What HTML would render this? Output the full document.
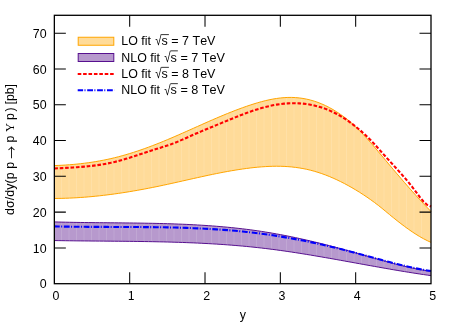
<!DOCTYPE html>
<html><head><meta charset="utf-8"><title>plot</title>
<style>
html,body{margin:0;padding:0;background:#fff;}
body{width:454px;height:324px;overflow:hidden;}
svg{display:block;will-change:transform;}
text{white-space:pre;font-family:"Liberation Sans","DejaVu Sans",sans-serif;font-size:12.4px;fill:#000;font-kerning:none;}
</style></head><body>
<svg width="454" height="324" viewBox="0 0 454 324">
<rect x="0" y="0" width="454" height="324" fill="#fff"/>

<path d="M54.35,165.58 L58.12,165.43 L61.88,165.25 L65.65,165.02 L69.42,164.75 L73.18,164.44 L76.95,164.08 L80.72,163.68 L84.48,163.23 L88.25,162.73 L92.02,162.18 L95.78,161.58 L99.55,160.92 L103.31,160.21 L107.08,159.44 L110.85,158.61 L114.61,157.72 L118.38,156.77 L122.15,155.76 L125.91,154.68 L129.68,153.56 L133.45,152.38 L137.21,151.15 L140.98,149.86 L144.75,148.54 L148.51,147.16 L152.28,145.74 L156.05,144.29 L159.81,142.79 L163.58,141.26 L167.34,139.69 L171.11,138.09 L174.88,136.47 L178.64,134.83 L182.41,133.18 L186.18,131.51 L189.94,129.83 L193.71,128.15 L197.48,126.47 L201.24,124.79 L205.01,123.11 L208.78,121.45 L212.54,119.81 L216.31,118.18 L220.08,116.58 L223.84,115.00 L227.61,113.46 L231.38,111.95 L235.14,110.48 L238.91,109.05 L242.67,107.67 L246.44,106.35 L250.21,105.07 L253.97,103.86 L257.74,102.72 L261.51,101.67 L265.27,100.70 L269.04,99.84 L272.81,99.09 L276.57,98.47 L280.34,97.98 L284.11,97.64 L287.87,97.45 L291.64,97.42 L295.41,97.58 L299.17,97.91 L302.94,98.44 L306.71,99.15 L310.47,100.05 L314.24,101.15 L318.00,102.44 L321.77,103.93 L325.54,105.62 L329.30,107.52 L333.07,109.62 L336.84,111.93 L340.60,114.46 L344.37,117.19 L348.14,120.16 L351.90,123.37 L355.67,126.82 L359.44,130.51 L363.20,134.42 L366.97,138.50 L370.74,142.74 L374.50,147.10 L378.27,151.54 L382.04,156.03 L385.80,160.54 L389.57,165.03 L393.33,169.50 L397.10,173.93 L400.87,178.34 L404.63,182.70 L408.40,187.01 L412.17,191.26 L415.93,195.46 L419.70,199.58 L423.47,203.63 L427.23,207.60 L431.00,211.48 L431.00,242.36 L427.23,240.64 L423.47,238.71 L419.70,236.58 L415.93,234.28 L412.17,231.82 L408.40,229.21 L404.63,226.48 L400.87,223.63 L397.10,220.69 L393.33,217.68 L389.57,214.60 L385.80,211.48 L382.04,208.36 L378.27,205.37 L374.50,202.50 L370.74,199.76 L366.97,197.13 L363.20,194.61 L359.44,192.20 L355.67,189.89 L351.90,187.67 L348.14,185.55 L344.37,183.53 L340.60,181.61 L336.84,179.79 L333.07,178.08 L329.30,176.48 L325.54,174.99 L321.77,173.61 L318.00,172.36 L314.24,171.22 L310.47,170.21 L306.71,169.32 L302.94,168.55 L299.17,167.91 L295.41,167.38 L291.64,166.95 L287.87,166.63 L284.11,166.41 L280.34,166.28 L276.57,166.24 L272.81,166.29 L269.04,166.41 L265.27,166.60 L261.51,166.86 L257.74,167.18 L253.97,167.56 L250.21,167.99 L246.44,168.47 L242.67,168.99 L238.91,169.55 L235.14,170.15 L231.38,170.78 L227.61,171.45 L223.84,172.14 L220.08,172.87 L216.31,173.61 L212.54,174.38 L208.78,175.17 L205.01,175.98 L201.24,176.80 L197.48,177.63 L193.71,178.47 L189.94,179.31 L186.18,180.16 L182.41,181.01 L178.64,181.86 L174.88,182.70 L171.11,183.54 L167.34,184.36 L163.58,185.17 L159.81,185.97 L156.05,186.75 L152.28,187.51 L148.51,188.25 L144.75,188.97 L140.98,189.67 L137.21,190.35 L133.45,191.01 L129.68,191.64 L125.91,192.25 L122.15,192.84 L118.38,193.40 L114.61,193.93 L110.85,194.44 L107.08,194.92 L103.31,195.37 L99.55,195.80 L95.78,196.20 L92.02,196.57 L88.25,196.90 L84.48,197.21 L80.72,197.48 L76.95,197.73 L73.18,197.94 L69.42,198.12 L65.65,198.26 L61.88,198.37 L58.12,198.44 L54.35,198.48 Z" fill="#FFDB99" stroke="none"/>
<path d="M54.35,221.92 L58.12,222.02 L61.88,222.11 L65.65,222.20 L69.42,222.28 L73.18,222.35 L76.95,222.41 L80.72,222.47 L84.48,222.52 L88.25,222.57 L92.02,222.61 L95.78,222.65 L99.55,222.69 L103.31,222.73 L107.08,222.76 L110.85,222.80 L114.61,222.83 L118.38,222.86 L122.15,222.90 L125.91,222.94 L129.68,222.98 L133.45,223.03 L137.21,223.07 L140.98,223.13 L144.75,223.19 L148.51,223.25 L152.28,223.32 L156.05,223.40 L159.81,223.49 L163.58,223.59 L167.34,223.70 L171.11,223.81 L174.88,223.94 L178.64,224.08 L182.41,224.23 L186.18,224.39 L189.94,224.57 L193.71,224.76 L197.48,224.97 L201.24,225.19 L205.01,225.43 L208.78,225.68 L212.54,225.95 L216.31,226.24 L220.08,226.55 L223.84,226.88 L227.61,227.23 L231.38,227.60 L235.14,227.99 L238.91,228.41 L242.67,228.85 L246.44,229.31 L250.21,229.79 L253.97,230.30 L257.74,230.84 L261.51,231.40 L265.27,231.99 L269.04,232.60 L272.81,233.25 L276.57,233.91 L280.34,234.61 L284.11,235.33 L287.87,236.07 L291.64,236.83 L295.41,237.62 L299.17,238.43 L302.94,239.27 L306.71,240.12 L310.47,240.99 L314.24,241.88 L318.00,242.80 L321.77,243.73 L325.54,244.67 L329.30,245.64 L333.07,246.62 L336.84,247.62 L340.60,248.63 L344.37,249.66 L348.14,250.70 L351.90,251.75 L355.67,252.82 L359.44,253.90 L363.20,254.98 L366.97,256.07 L370.74,257.15 L374.50,258.24 L378.27,259.31 L382.04,260.37 L385.80,261.42 L389.57,262.44 L393.33,263.45 L397.10,264.42 L400.87,265.37 L404.63,266.28 L408.40,267.15 L412.17,267.98 L415.93,268.76 L419.70,269.50 L423.47,270.18 L427.23,270.80 L431.00,271.36 L431.00,275.63 L427.23,275.10 L423.47,274.55 L419.70,273.99 L415.93,273.41 L412.17,272.82 L408.40,272.22 L404.63,271.61 L400.87,270.99 L397.10,270.36 L393.33,269.72 L389.57,269.07 L385.80,268.42 L382.04,267.76 L378.27,267.09 L374.50,266.42 L370.74,265.74 L366.97,265.07 L363.20,264.39 L359.44,263.70 L355.67,263.02 L351.90,262.34 L348.14,261.66 L344.37,260.98 L340.60,260.30 L336.84,259.62 L333.07,258.95 L329.30,258.29 L325.54,257.63 L321.77,256.97 L318.00,256.33 L314.24,255.69 L310.47,255.06 L306.71,254.44 L302.94,253.83 L299.17,253.23 L295.41,252.64 L291.64,252.07 L287.87,251.51 L284.11,250.96 L280.34,250.43 L276.57,249.92 L272.81,249.42 L269.04,248.94 L265.27,248.48 L261.51,248.04 L257.74,247.61 L253.97,247.21 L250.21,246.82 L246.44,246.45 L242.67,246.10 L238.91,245.77 L235.14,245.45 L231.38,245.15 L227.61,244.86 L223.84,244.59 L220.08,244.33 L216.31,244.09 L212.54,243.86 L208.78,243.65 L205.01,243.44 L201.24,243.25 L197.48,243.07 L193.71,242.90 L189.94,242.75 L186.18,242.60 L182.41,242.46 L178.64,242.34 L174.88,242.22 L171.11,242.11 L167.34,242.01 L163.58,241.92 L159.81,241.83 L156.05,241.75 L152.28,241.68 L148.51,241.61 L144.75,241.55 L140.98,241.50 L137.21,241.45 L133.45,241.40 L129.68,241.35 L125.91,241.31 L122.15,241.28 L118.38,241.24 L114.61,241.21 L110.85,241.17 L107.08,241.14 L103.31,241.11 L99.55,241.08 L95.78,241.05 L92.02,241.02 L88.25,240.98 L84.48,240.95 L80.72,240.91 L76.95,240.87 L73.18,240.82 L69.42,240.78 L65.65,240.72 L61.88,240.67 L58.12,240.61 L54.35,240.54 Z" fill="#B799CD" stroke="none"/>
<clipPath id="cb"><path d="M54.35,165.58 L58.12,165.43 L61.88,165.25 L65.65,165.02 L69.42,164.75 L73.18,164.44 L76.95,164.08 L80.72,163.68 L84.48,163.23 L88.25,162.73 L92.02,162.18 L95.78,161.58 L99.55,160.92 L103.31,160.21 L107.08,159.44 L110.85,158.61 L114.61,157.72 L118.38,156.77 L122.15,155.76 L125.91,154.68 L129.68,153.56 L133.45,152.38 L137.21,151.15 L140.98,149.86 L144.75,148.54 L148.51,147.16 L152.28,145.74 L156.05,144.29 L159.81,142.79 L163.58,141.26 L167.34,139.69 L171.11,138.09 L174.88,136.47 L178.64,134.83 L182.41,133.18 L186.18,131.51 L189.94,129.83 L193.71,128.15 L197.48,126.47 L201.24,124.79 L205.01,123.11 L208.78,121.45 L212.54,119.81 L216.31,118.18 L220.08,116.58 L223.84,115.00 L227.61,113.46 L231.38,111.95 L235.14,110.48 L238.91,109.05 L242.67,107.67 L246.44,106.35 L250.21,105.07 L253.97,103.86 L257.74,102.72 L261.51,101.67 L265.27,100.70 L269.04,99.84 L272.81,99.09 L276.57,98.47 L280.34,97.98 L284.11,97.64 L287.87,97.45 L291.64,97.42 L295.41,97.58 L299.17,97.91 L302.94,98.44 L306.71,99.15 L310.47,100.05 L314.24,101.15 L318.00,102.44 L321.77,103.93 L325.54,105.62 L329.30,107.52 L333.07,109.62 L336.84,111.93 L340.60,114.46 L344.37,117.19 L348.14,120.16 L351.90,123.37 L355.67,126.82 L359.44,130.51 L363.20,134.42 L366.97,138.50 L370.74,142.74 L374.50,147.10 L378.27,151.54 L382.04,156.03 L385.80,160.54 L389.57,165.03 L393.33,169.50 L397.10,173.93 L400.87,178.34 L404.63,182.70 L408.40,187.01 L412.17,191.26 L415.93,195.46 L419.70,199.58 L423.47,203.63 L427.23,207.60 L431.00,211.48 L431.00,242.36 L427.23,240.64 L423.47,238.71 L419.70,236.58 L415.93,234.28 L412.17,231.82 L408.40,229.21 L404.63,226.48 L400.87,223.63 L397.10,220.69 L393.33,217.68 L389.57,214.60 L385.80,211.48 L382.04,208.36 L378.27,205.37 L374.50,202.50 L370.74,199.76 L366.97,197.13 L363.20,194.61 L359.44,192.20 L355.67,189.89 L351.90,187.67 L348.14,185.55 L344.37,183.53 L340.60,181.61 L336.84,179.79 L333.07,178.08 L329.30,176.48 L325.54,174.99 L321.77,173.61 L318.00,172.36 L314.24,171.22 L310.47,170.21 L306.71,169.32 L302.94,168.55 L299.17,167.91 L295.41,167.38 L291.64,166.95 L287.87,166.63 L284.11,166.41 L280.34,166.28 L276.57,166.24 L272.81,166.29 L269.04,166.41 L265.27,166.60 L261.51,166.86 L257.74,167.18 L253.97,167.56 L250.21,167.99 L246.44,168.47 L242.67,168.99 L238.91,169.55 L235.14,170.15 L231.38,170.78 L227.61,171.45 L223.84,172.14 L220.08,172.87 L216.31,173.61 L212.54,174.38 L208.78,175.17 L205.01,175.98 L201.24,176.80 L197.48,177.63 L193.71,178.47 L189.94,179.31 L186.18,180.16 L182.41,181.01 L178.64,181.86 L174.88,182.70 L171.11,183.54 L167.34,184.36 L163.58,185.17 L159.81,185.97 L156.05,186.75 L152.28,187.51 L148.51,188.25 L144.75,188.97 L140.98,189.67 L137.21,190.35 L133.45,191.01 L129.68,191.64 L125.91,192.25 L122.15,192.84 L118.38,193.40 L114.61,193.93 L110.85,194.44 L107.08,194.92 L103.31,195.37 L99.55,195.80 L95.78,196.20 L92.02,196.57 L88.25,196.90 L84.48,197.21 L80.72,197.48 L76.95,197.73 L73.18,197.94 L69.42,198.12 L65.65,198.26 L61.88,198.37 L58.12,198.44 L54.35,198.48 Z"/><path d="M54.35,221.92 L58.12,222.02 L61.88,222.11 L65.65,222.20 L69.42,222.28 L73.18,222.35 L76.95,222.41 L80.72,222.47 L84.48,222.52 L88.25,222.57 L92.02,222.61 L95.78,222.65 L99.55,222.69 L103.31,222.73 L107.08,222.76 L110.85,222.80 L114.61,222.83 L118.38,222.86 L122.15,222.90 L125.91,222.94 L129.68,222.98 L133.45,223.03 L137.21,223.07 L140.98,223.13 L144.75,223.19 L148.51,223.25 L152.28,223.32 L156.05,223.40 L159.81,223.49 L163.58,223.59 L167.34,223.70 L171.11,223.81 L174.88,223.94 L178.64,224.08 L182.41,224.23 L186.18,224.39 L189.94,224.57 L193.71,224.76 L197.48,224.97 L201.24,225.19 L205.01,225.43 L208.78,225.68 L212.54,225.95 L216.31,226.24 L220.08,226.55 L223.84,226.88 L227.61,227.23 L231.38,227.60 L235.14,227.99 L238.91,228.41 L242.67,228.85 L246.44,229.31 L250.21,229.79 L253.97,230.30 L257.74,230.84 L261.51,231.40 L265.27,231.99 L269.04,232.60 L272.81,233.25 L276.57,233.91 L280.34,234.61 L284.11,235.33 L287.87,236.07 L291.64,236.83 L295.41,237.62 L299.17,238.43 L302.94,239.27 L306.71,240.12 L310.47,240.99 L314.24,241.88 L318.00,242.80 L321.77,243.73 L325.54,244.67 L329.30,245.64 L333.07,246.62 L336.84,247.62 L340.60,248.63 L344.37,249.66 L348.14,250.70 L351.90,251.75 L355.67,252.82 L359.44,253.90 L363.20,254.98 L366.97,256.07 L370.74,257.15 L374.50,258.24 L378.27,259.31 L382.04,260.37 L385.80,261.42 L389.57,262.44 L393.33,263.45 L397.10,264.42 L400.87,265.37 L404.63,266.28 L408.40,267.15 L412.17,267.98 L415.93,268.76 L419.70,269.50 L423.47,270.18 L427.23,270.80 L431.00,271.36 L431.00,275.63 L427.23,275.10 L423.47,274.55 L419.70,273.99 L415.93,273.41 L412.17,272.82 L408.40,272.22 L404.63,271.61 L400.87,270.99 L397.10,270.36 L393.33,269.72 L389.57,269.07 L385.80,268.42 L382.04,267.76 L378.27,267.09 L374.50,266.42 L370.74,265.74 L366.97,265.07 L363.20,264.39 L359.44,263.70 L355.67,263.02 L351.90,262.34 L348.14,261.66 L344.37,260.98 L340.60,260.30 L336.84,259.62 L333.07,258.95 L329.30,258.29 L325.54,257.63 L321.77,256.97 L318.00,256.33 L314.24,255.69 L310.47,255.06 L306.71,254.44 L302.94,253.83 L299.17,253.23 L295.41,252.64 L291.64,252.07 L287.87,251.51 L284.11,250.96 L280.34,250.43 L276.57,249.92 L272.81,249.42 L269.04,248.94 L265.27,248.48 L261.51,248.04 L257.74,247.61 L253.97,247.21 L250.21,246.82 L246.44,246.45 L242.67,246.10 L238.91,245.77 L235.14,245.45 L231.38,245.15 L227.61,244.86 L223.84,244.59 L220.08,244.33 L216.31,244.09 L212.54,243.86 L208.78,243.65 L205.01,243.44 L201.24,243.25 L197.48,243.07 L193.71,242.90 L189.94,242.75 L186.18,242.60 L182.41,242.46 L178.64,242.34 L174.88,242.22 L171.11,242.11 L167.34,242.01 L163.58,241.92 L159.81,241.83 L156.05,241.75 L152.28,241.68 L148.51,241.61 L144.75,241.55 L140.98,241.50 L137.21,241.45 L133.45,241.40 L129.68,241.35 L125.91,241.31 L122.15,241.28 L118.38,241.24 L114.61,241.21 L110.85,241.17 L107.08,241.14 L103.31,241.11 L99.55,241.08 L95.78,241.05 L92.02,241.02 L88.25,240.98 L84.48,240.95 L80.72,240.91 L76.95,240.87 L73.18,240.82 L69.42,240.78 L65.65,240.72 L61.88,240.67 L58.12,240.61 L54.35,240.54 Z"/></clipPath>
<path d="M61.50,90 V280 M69.00,90 V280 M76.50,90 V280 M84.00,90 V280 M91.50,90 V280 M99.00,90 V280 M106.50,90 V280 M114.00,90 V280 M121.50,90 V280 M129.00,90 V280 M136.50,90 V280 M144.00,90 V280 M151.50,90 V280 M159.00,90 V280 M166.50,90 V280 M174.00,90 V280 M181.50,90 V280 M189.00,90 V280 M196.50,90 V280 M204.00,90 V280 M211.50,90 V280 M219.00,90 V280 M226.50,90 V280 M234.00,90 V280 M241.50,90 V280 M249.00,90 V280 M256.50,90 V280 M264.00,90 V280 M271.50,90 V280 M279.00,90 V280 M286.50,90 V280 M294.00,90 V280 M301.50,90 V280 M309.00,90 V280 M316.50,90 V280 M324.00,90 V280 M331.50,90 V280 M339.00,90 V280 M346.50,90 V280 M354.00,90 V280 M361.50,90 V280 M369.00,90 V280 M376.50,90 V280 M384.00,90 V280 M391.50,90 V280 M399.00,90 V280 M406.50,90 V280 M414.00,90 V280 M421.50,90 V280" clip-path="url(#cb)" stroke="#fff" stroke-opacity="0.2" stroke-width="0.7" fill="none"/>
<path d="M54.35,165.58 L58.12,165.43 L61.88,165.25 L65.65,165.02 L69.42,164.75 L73.18,164.44 L76.95,164.08 L80.72,163.68 L84.48,163.23 L88.25,162.73 L92.02,162.18 L95.78,161.58 L99.55,160.92 L103.31,160.21 L107.08,159.44 L110.85,158.61 L114.61,157.72 L118.38,156.77 L122.15,155.76 L125.91,154.68 L129.68,153.56 L133.45,152.38 L137.21,151.15 L140.98,149.86 L144.75,148.54 L148.51,147.16 L152.28,145.74 L156.05,144.29 L159.81,142.79 L163.58,141.26 L167.34,139.69 L171.11,138.09 L174.88,136.47 L178.64,134.83 L182.41,133.18 L186.18,131.51 L189.94,129.83 L193.71,128.15 L197.48,126.47 L201.24,124.79 L205.01,123.11 L208.78,121.45 L212.54,119.81 L216.31,118.18 L220.08,116.58 L223.84,115.00 L227.61,113.46 L231.38,111.95 L235.14,110.48 L238.91,109.05 L242.67,107.67 L246.44,106.35 L250.21,105.07 L253.97,103.86 L257.74,102.72 L261.51,101.67 L265.27,100.70 L269.04,99.84 L272.81,99.09 L276.57,98.47 L280.34,97.98 L284.11,97.64 L287.87,97.45 L291.64,97.42 L295.41,97.58 L299.17,97.91 L302.94,98.44 L306.71,99.15 L310.47,100.05 L314.24,101.15 L318.00,102.44 L321.77,103.93 L325.54,105.62 L329.30,107.52 L333.07,109.62 L336.84,111.93 L340.60,114.46 L344.37,117.19 L348.14,120.16 L351.90,123.37 L355.67,126.82 L359.44,130.51 L363.20,134.42 L366.97,138.50 L370.74,142.74 L374.50,147.10 L378.27,151.54 L382.04,156.03 L385.80,160.54 L389.57,165.03 L393.33,169.50 L397.10,173.93 L400.87,178.34 L404.63,182.70 L408.40,187.01 L412.17,191.26 L415.93,195.46 L419.70,199.58 L423.47,203.63 L427.23,207.60 L431.00,211.48" fill="none" stroke="#FFA500" stroke-width="1"/>
<path d="M54.35,198.48 L58.12,198.44 L61.88,198.37 L65.65,198.26 L69.42,198.12 L73.18,197.94 L76.95,197.73 L80.72,197.48 L84.48,197.21 L88.25,196.90 L92.02,196.57 L95.78,196.20 L99.55,195.80 L103.31,195.37 L107.08,194.92 L110.85,194.44 L114.61,193.93 L118.38,193.40 L122.15,192.84 L125.91,192.25 L129.68,191.64 L133.45,191.01 L137.21,190.35 L140.98,189.67 L144.75,188.97 L148.51,188.25 L152.28,187.51 L156.05,186.75 L159.81,185.97 L163.58,185.17 L167.34,184.36 L171.11,183.54 L174.88,182.70 L178.64,181.86 L182.41,181.01 L186.18,180.16 L189.94,179.31 L193.71,178.47 L197.48,177.63 L201.24,176.80 L205.01,175.98 L208.78,175.17 L212.54,174.38 L216.31,173.61 L220.08,172.87 L223.84,172.14 L227.61,171.45 L231.38,170.78 L235.14,170.15 L238.91,169.55 L242.67,168.99 L246.44,168.47 L250.21,167.99 L253.97,167.56 L257.74,167.18 L261.51,166.86 L265.27,166.60 L269.04,166.41 L272.81,166.29 L276.57,166.24 L280.34,166.28 L284.11,166.41 L287.87,166.63 L291.64,166.95 L295.41,167.38 L299.17,167.91 L302.94,168.55 L306.71,169.32 L310.47,170.21 L314.24,171.22 L318.00,172.36 L321.77,173.61 L325.54,174.99 L329.30,176.48 L333.07,178.08 L336.84,179.79 L340.60,181.61 L344.37,183.53 L348.14,185.55 L351.90,187.67 L355.67,189.89 L359.44,192.20 L363.20,194.61 L366.97,197.13 L370.74,199.76 L374.50,202.50 L378.27,205.37 L382.04,208.36 L385.80,211.48 L389.57,214.60 L393.33,217.68 L397.10,220.69 L400.87,223.63 L404.63,226.48 L408.40,229.21 L412.17,231.82 L415.93,234.28 L419.70,236.58 L423.47,238.71 L427.23,240.64 L431.00,242.36" fill="none" stroke="#FFA500" stroke-width="1"/>
<path d="M54.35,221.92 L58.12,222.02 L61.88,222.11 L65.65,222.20 L69.42,222.28 L73.18,222.35 L76.95,222.41 L80.72,222.47 L84.48,222.52 L88.25,222.57 L92.02,222.61 L95.78,222.65 L99.55,222.69 L103.31,222.73 L107.08,222.76 L110.85,222.80 L114.61,222.83 L118.38,222.86 L122.15,222.90 L125.91,222.94 L129.68,222.98 L133.45,223.03 L137.21,223.07 L140.98,223.13 L144.75,223.19 L148.51,223.25 L152.28,223.32 L156.05,223.40 L159.81,223.49 L163.58,223.59 L167.34,223.70 L171.11,223.81 L174.88,223.94 L178.64,224.08 L182.41,224.23 L186.18,224.39 L189.94,224.57 L193.71,224.76 L197.48,224.97 L201.24,225.19 L205.01,225.43 L208.78,225.68 L212.54,225.95 L216.31,226.24 L220.08,226.55 L223.84,226.88 L227.61,227.23 L231.38,227.60 L235.14,227.99 L238.91,228.41 L242.67,228.85 L246.44,229.31 L250.21,229.79 L253.97,230.30 L257.74,230.84 L261.51,231.40 L265.27,231.99 L269.04,232.60 L272.81,233.25 L276.57,233.91 L280.34,234.61 L284.11,235.33 L287.87,236.07 L291.64,236.83 L295.41,237.62 L299.17,238.43 L302.94,239.27 L306.71,240.12 L310.47,240.99 L314.24,241.88 L318.00,242.80 L321.77,243.73 L325.54,244.67 L329.30,245.64 L333.07,246.62 L336.84,247.62 L340.60,248.63 L344.37,249.66 L348.14,250.70 L351.90,251.75 L355.67,252.82 L359.44,253.90 L363.20,254.98 L366.97,256.07 L370.74,257.15 L374.50,258.24 L378.27,259.31 L382.04,260.37 L385.80,261.42 L389.57,262.44 L393.33,263.45 L397.10,264.42 L400.87,265.37 L404.63,266.28 L408.40,267.15 L412.17,267.98 L415.93,268.76 L419.70,269.50 L423.47,270.18 L427.23,270.80 L431.00,271.36" fill="none" stroke="#57108F" stroke-width="1"/>
<path d="M54.35,240.54 L58.12,240.61 L61.88,240.67 L65.65,240.72 L69.42,240.78 L73.18,240.82 L76.95,240.87 L80.72,240.91 L84.48,240.95 L88.25,240.98 L92.02,241.02 L95.78,241.05 L99.55,241.08 L103.31,241.11 L107.08,241.14 L110.85,241.17 L114.61,241.21 L118.38,241.24 L122.15,241.28 L125.91,241.31 L129.68,241.35 L133.45,241.40 L137.21,241.45 L140.98,241.50 L144.75,241.55 L148.51,241.61 L152.28,241.68 L156.05,241.75 L159.81,241.83 L163.58,241.92 L167.34,242.01 L171.11,242.11 L174.88,242.22 L178.64,242.34 L182.41,242.46 L186.18,242.60 L189.94,242.75 L193.71,242.90 L197.48,243.07 L201.24,243.25 L205.01,243.44 L208.78,243.65 L212.54,243.86 L216.31,244.09 L220.08,244.33 L223.84,244.59 L227.61,244.86 L231.38,245.15 L235.14,245.45 L238.91,245.77 L242.67,246.10 L246.44,246.45 L250.21,246.82 L253.97,247.21 L257.74,247.61 L261.51,248.04 L265.27,248.48 L269.04,248.94 L272.81,249.42 L276.57,249.92 L280.34,250.43 L284.11,250.96 L287.87,251.51 L291.64,252.07 L295.41,252.64 L299.17,253.23 L302.94,253.83 L306.71,254.44 L310.47,255.06 L314.24,255.69 L318.00,256.33 L321.77,256.97 L325.54,257.63 L329.30,258.29 L333.07,258.95 L336.84,259.62 L340.60,260.30 L344.37,260.98 L348.14,261.66 L351.90,262.34 L355.67,263.02 L359.44,263.70 L363.20,264.39 L366.97,265.07 L370.74,265.74 L374.50,266.42 L378.27,267.09 L382.04,267.76 L385.80,268.42 L389.57,269.07 L393.33,269.72 L397.10,270.36 L400.87,270.99 L404.63,271.61 L408.40,272.22 L412.17,272.82 L415.93,273.41 L419.70,273.99 L423.47,274.55 L427.23,275.10 L431.00,275.63" fill="none" stroke="#57108F" stroke-width="1"/>
<path d="M54.35,168.51 L58.12,168.30 L61.88,168.10 L65.65,167.90 L69.42,167.68 L73.18,167.46 L76.95,167.21 L80.72,166.93 L84.48,166.61 L88.25,166.25 L92.02,165.84 L95.78,165.37 L99.55,164.84 L103.31,164.24 L107.08,163.55 L110.85,162.79 L114.61,161.93 L118.38,160.98 L122.15,159.94 L125.91,158.84 L129.68,157.68 L133.45,156.47 L137.21,155.24 L140.98,153.99 L144.75,152.75 L148.51,151.51 L152.28,150.28 L156.05,149.08 L159.81,147.89 L163.58,146.73 L167.34,145.53 L171.11,144.25 L174.88,142.85 L178.64,141.30 L182.41,139.64 L186.18,137.95 L189.94,136.25 L193.71,134.59 L197.48,132.97 L201.24,131.38 L205.01,129.81 L208.78,128.25 L212.54,126.70 L216.31,125.15 L220.08,123.60 L223.84,122.03 L227.61,120.47 L231.38,118.92 L235.14,117.39 L238.91,115.89 L242.67,114.43 L246.44,113.02 L250.21,111.66 L253.97,110.38 L257.74,109.18 L261.51,108.06 L265.27,107.05 L269.04,106.14 L272.81,105.34 L276.57,104.66 L280.34,104.10 L284.11,103.67 L287.87,103.38 L291.64,103.22 L295.41,103.20 L299.17,103.33 L302.94,103.62 L306.71,104.07 L310.47,104.68 L314.24,105.46 L318.00,106.42 L321.77,107.55 L325.54,108.87 L329.30,110.38 L333.07,112.09 L336.84,113.99 L340.60,116.10 L344.37,118.41 L348.14,120.94 L351.90,123.66 L355.67,126.58 L359.44,129.67 L363.20,132.95 L366.97,136.45 L370.74,140.21 L374.50,144.22 L378.27,148.40 L382.04,152.65 L385.80,156.87 L389.57,161.02 L393.33,165.12 L397.10,169.24 L400.87,173.42 L404.63,177.72 L408.40,182.20 L412.17,186.90 L415.93,191.88 L419.70,196.97 L423.47,201.54 L427.23,204.95 L431.00,206.52" fill="none" stroke="#FF0000" stroke-width="2.1" stroke-dasharray="3.6 1.8"/>
<path d="M54.35,226.40 L58.12,226.48 L61.88,226.55 L65.65,226.61 L69.42,226.67 L73.18,226.71 L76.95,226.76 L80.72,226.79 L84.48,226.82 L88.25,226.85 L92.02,226.87 L95.78,226.89 L99.55,226.90 L103.31,226.91 L107.08,226.92 L110.85,226.93 L114.61,226.94 L118.38,226.95 L122.15,226.97 L125.91,226.98 L129.68,226.99 L133.45,227.01 L137.21,227.03 L140.98,227.06 L144.75,227.09 L148.51,227.12 L152.28,227.16 L156.05,227.21 L159.81,227.26 L163.58,227.32 L167.34,227.40 L171.11,227.47 L174.88,227.56 L178.64,227.66 L182.41,227.77 L186.18,227.90 L189.94,228.03 L193.71,228.18 L197.48,228.34 L201.24,228.51 L205.01,228.70 L208.78,228.90 L212.54,229.12 L216.31,229.36 L220.08,229.61 L223.84,229.88 L227.61,230.17 L231.38,230.48 L235.14,230.81 L238.91,231.16 L242.67,231.53 L246.44,231.92 L250.21,232.33 L253.97,232.76 L257.74,233.22 L261.51,233.71 L265.27,234.21 L269.04,234.75 L272.81,235.30 L276.57,235.88 L280.34,236.49 L284.11,237.11 L287.87,237.77 L291.64,238.44 L295.41,239.13 L299.17,239.85 L302.94,240.59 L306.71,241.35 L310.47,242.13 L314.24,242.93 L318.00,243.75 L321.77,244.58 L325.54,245.44 L329.30,246.32 L333.07,247.21 L336.84,248.12 L340.60,249.05 L344.37,250.00 L348.14,250.96 L351.90,251.94 L355.67,252.94 L359.44,253.94 L363.20,254.96 L366.97,255.99 L370.74,257.02 L374.50,258.05 L378.27,259.07 L382.04,260.09 L385.80,261.10 L389.57,262.09 L393.33,263.07 L397.10,264.02 L400.87,264.95 L404.63,265.85 L408.40,266.72 L412.17,267.56 L415.93,268.35 L419.70,269.11 L423.47,269.81 L427.23,270.47 L431.00,271.08" fill="none" stroke="#0000FF" stroke-width="2.1" stroke-dasharray="5.8 1.4 1.0 1.7" stroke-dashoffset="0.4"/>
<rect x="78.2" y="37.25" width="35.599999999999994" height="8" fill="#FFDB99" stroke="#FFA500" stroke-width="1"/>
<rect x="78.2" y="53.5" width="35.599999999999994" height="8" fill="#B799CD" stroke="#57108F" stroke-width="1"/>
<path d="M77.7,74.0 L114.3,74.0" fill="none" stroke="#FF0000" stroke-width="2.1" stroke-dasharray="3.6 1.8"/>
<path d="M77.7,90.3 L114.3,90.3" fill="none" stroke="#0000FF" stroke-width="2.1" stroke-dasharray="5.8 1.4 1.0 1.7" stroke-dashoffset="0.4"/>
<text y="45.35"><tspan x="121.3">LO fit </tspan><tspan x="155.30" dy="0.1" style="font-size:14.1px" textLength="6.35" lengthAdjust="spacingAndGlyphs">√</tspan><tspan x="161.60" dy="-0.1" style="font-size:12.5px">s = 7 TeV</tspan></text>
<path d="M161.40,34.60 H168.90" stroke="#000" stroke-width="0.8" fill="none"/>
<text y="61.60"><tspan x="121.3">NLO fit </tspan><tspan x="164.25" dy="0.1" style="font-size:14.1px" textLength="6.35" lengthAdjust="spacingAndGlyphs">√</tspan><tspan x="170.55" dy="-0.1" style="font-size:12.65px">s = 7 TeV</tspan></text>
<path d="M170.35,50.85 H177.85" stroke="#000" stroke-width="0.8" fill="none"/>
<text y="78.10"><tspan x="121.3">LO fit </tspan><tspan x="155.30" dy="0.1" style="font-size:14.1px" textLength="6.35" lengthAdjust="spacingAndGlyphs">√</tspan><tspan x="161.60" dy="-0.1" style="font-size:12.5px">s = 8 TeV</tspan></text>
<path d="M161.40,67.35 H168.90" stroke="#000" stroke-width="0.8" fill="none"/>
<text y="94.40"><tspan x="121.3">NLO fit </tspan><tspan x="164.25" dy="0.1" style="font-size:14.1px" textLength="6.35" lengthAdjust="spacingAndGlyphs">√</tspan><tspan x="170.55" dy="-0.1" style="font-size:12.65px">s = 8 TeV</tspan></text>
<path d="M170.35,83.65 H177.85" stroke="#000" stroke-width="0.8" fill="none"/>
<g stroke="#000" stroke-width="1.05" fill="none">
<path d="M54.35,247.91 h11.5 M431.0,247.91 h-11.5"/>
<path d="M54.35,212.13 h11.5 M431.0,212.13 h-11.5"/>
<path d="M54.35,176.34 h11.5 M431.0,176.34 h-11.5"/>
<path d="M54.35,140.55 h11.5 M431.0,140.55 h-11.5"/>
<path d="M54.35,104.77 h11.5 M431.0,104.77 h-11.5"/>
<path d="M54.35,68.98 h11.5 M431.0,68.98 h-11.5"/>
<path d="M54.35,33.19 h11.5 M431.0,33.19 h-11.5"/>
<path d="M129.68,283.7 v-11.5 M129.68,15.3 v11.5"/>
<path d="M205.01,283.7 v-11.5 M205.01,15.3 v11.5"/>
<path d="M280.34,283.7 v-11.5 M280.34,15.3 v11.5"/>
<path d="M355.67,283.7 v-11.5 M355.67,15.3 v11.5"/>
</g>
<rect x="54.35" y="15.3" width="376.65" height="268.4" stroke="#000" stroke-width="1.3" fill="none"/>
<text x="46.6" y="288.30" text-anchor="end">0</text>
<text x="46.6" y="252.51" text-anchor="end"><tspan style="font-family:'Noto Sans CJK SC','Liberation Sans',sans-serif">1</tspan>0</text>
<text x="46.6" y="216.73" text-anchor="end">20</text>
<text x="46.6" y="180.94" text-anchor="end">30</text>
<text x="46.6" y="145.15" text-anchor="end">40</text>
<text x="46.6" y="109.37" text-anchor="end">50</text>
<text x="46.6" y="73.58" text-anchor="end">60</text>
<text x="46.6" y="37.79" text-anchor="end">70</text>
<text x="55.95" y="300.2" text-anchor="middle">0</text>
<text x="131.28" y="300.2" text-anchor="middle"><tspan style="font-family:'Noto Sans CJK SC','Liberation Sans',sans-serif">1</tspan></text>
<text x="206.61" y="300.2" text-anchor="middle">2</text>
<text x="281.94" y="300.2" text-anchor="middle">3</text>
<text x="357.27" y="300.2" text-anchor="middle">4</text>
<text x="432.60" y="300.2" text-anchor="middle">5</text>
<text x="242.9" y="319.2" text-anchor="middle">y</text>
<text transform="translate(14.2,215.0) rotate(-90)" x="0.00 7.02 14.80 18.31 25.32 31.63 35.83 42.85 46.35 52.00 56.30 69.00 72.60 79.50 83.00 92.00 95.10 103.40 107.30 110.50 113.90 120.80 127.60">dσ/dy(p p <tspan style="font-family:'Noto Sans CJK SC','Noto Sans CJK JP','DejaVu Sans',sans-serif;font-size:13px" dy="1.6">→</tspan><tspan dy="-1.6"> </tspan>p <tspan style="font-family:'Liberation Serif',serif">Υ</tspan> p) [pb]</text>
</svg></body></html>
